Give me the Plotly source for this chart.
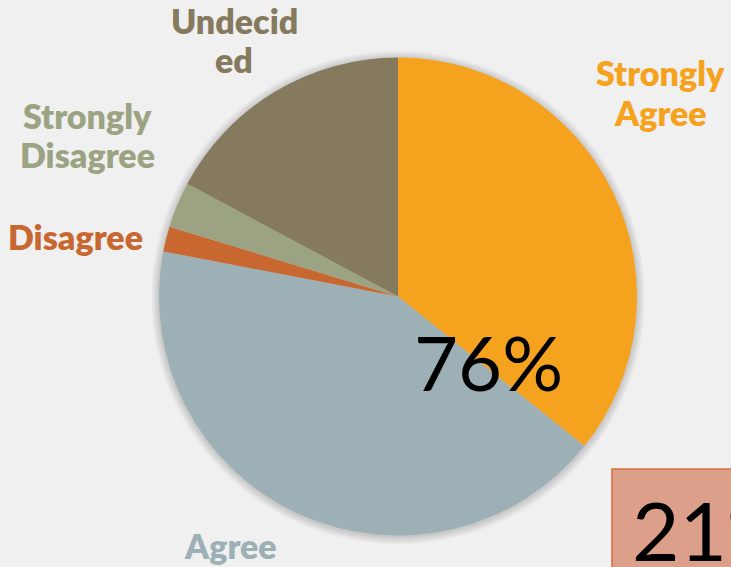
import plotly.graph_objects as go

# ---- data ----
categories = ["Strongly Agree", "Agree", "Disagree", "Strongly Disagree", "Undecided"]
values = [35.8, 42.3, 1.7, 3.1, 17.2]
slice_colors = ["#F5A31F", "#9DB0B6", "#C8672F", "#9CA383", "#857A5E"]
label_texts = ["Strongly<br>Agree", "Agree", "Disagree", "Strongly<br>Disagree", "Undecid<br>ed"]
agree_total_text = "76%"
box_text = "21%"

W, H = 731, 567
cx, cy, R = 398, 296.5, 239  # pixel geometry of the pie

def px_x(x):
    return x / W

def px_y(y):
    return 1 - y / H

fig = go.Figure()
fig.add_trace(go.Pie(
    labels=categories,
    values=values,
    sort=False,
    direction="clockwise",
    rotation=0,
    marker=dict(colors=slice_colors, line=dict(width=0)),
    textinfo="none",
    hoverinfo="label+percent",
    showlegend=False,
    domain=dict(x=[px_x(cx - R), px_x(cx + R)], y=[px_y(cy + R), px_y(cy - R)]),
))

shapes = []
# soft shadow around the pie
for k in range(1, 9):
    r = R + k
    shapes.append(dict(
        type="circle", xref="paper", yref="paper", layer="below",
        x0=px_x(cx - r), x1=px_x(cx + r),
        y0=px_y(cy + r + 1), y1=px_y(cy - r + 1),
        fillcolor="rgba(0,0,0,0.02)", line=dict(width=0),
    ))
# salmon box at bottom right
shapes.append(dict(
    type="rect", xref="paper", yref="paper", layer="above",
    x0=px_x(612), x1=px_x(760), y0=px_y(620), y1=px_y(469),
    fillcolor="#DCA08A", line=dict(color="#D2703A", width=1.5),
))

# label centre (x, first-line y)
label_pos = [(660, 73), (230, 545), (75, 237), (87, 115), (234, 20)]
line_gap = 39
annotations = []
for txt, col, (x, y) in zip(label_texts, slice_colors, label_pos):
    for i, line in enumerate(txt.split("<br>")):
        annotations.append(dict(
            text=line, x=px_x(x), y=px_y(y + i * line_gap), xref="paper", yref="paper",
            xanchor="center", yanchor="middle", showarrow=False, align="center",
            font=dict(family="Lato", size=34, color=col, weight=800),
        ))
annotations.append(dict(
    text=agree_total_text, x=px_x(488), y=px_y(361), xref="paper", yref="paper",
    xanchor="center", yanchor="middle", showarrow=False,
    font=dict(family="Lato", size=76, color="#000000"),
))
annotations.append(dict(
    text=box_text, x=px_x(630), y=px_y(478), xref="paper", yref="paper",
    xanchor="left", yanchor="top", showarrow=False,
    font=dict(family="Lato", size=82, color="#000000"),
))

fig.update_layout(
    width=W, height=H,
    margin=dict(l=0, r=0, t=0, b=0),
    paper_bgcolor="#F0F0F0",
    plot_bgcolor="#F0F0F0",
    shapes=shapes,
    annotations=annotations,
)

fig.write_html("out.html")
